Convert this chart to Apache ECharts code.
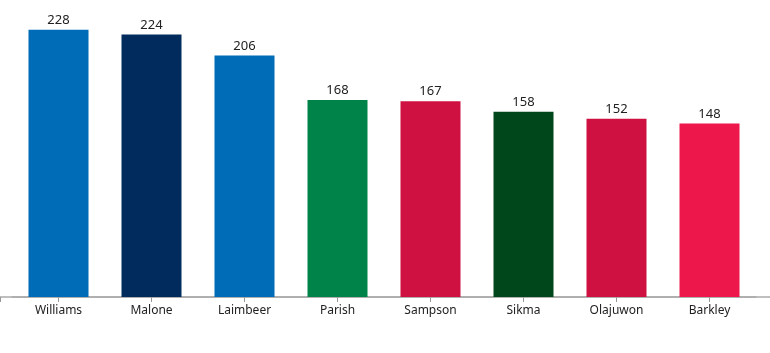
<!DOCTYPE html>
<html>
<head>
<meta charset="utf-8">
<script src="https://cdn.jsdelivr.net/npm/echarts@6/dist/echarts.min.js"></script>
<style>
  html, body { margin: 0; padding: 0; background: #fff; }
  #chart { width: 770px; height: 353px; }
</style>
</head>
<body>
<div id="chart"></div>
<script>
var players = ['Williams', 'Malone', 'Laimbeer', 'Parish', 'Sampson', 'Sikma', 'Olajuwon', 'Barkley'];
var values = [228, 224, 206, 168, 167, 158, 152, 148];
var teamColors = ['#006bb6', '#002b5c', '#006bb6', '#008348', '#ce1141', '#00471b', '#ce1141', '#ed174c'];

var chart = echarts.init(document.getElementById('chart'));
chart.setOption({
    animation: false,
    textStyle: { fontFamily: 'Noto Sans' },
    grid: [
        { left: 12, right: 14, top: 4, bottom: 56 },
        // full-width grid only used for the long axis line
        { left: 0, right: 0, top: 4, bottom: 56 }
    ],
    xAxis: [
        {
            type: 'category',
            gridIndex: 0,
            data: players,
            axisLine: { show: true, lineStyle: { color: '#aaa', width: 1.5 } },
            axisTick: { show: true, alignWithLabel: true, interval: 0, length: 5, lineStyle: { color: '#999', width: 1 } },
            axisLabel: { color: '#222', fontSize: 12, margin: 8, interval: 0 }
        },
        {
            type: 'value',
            gridIndex: 1,
            min: 0,
            max: 1,
            interval: 1,
            axisLine: { show: true, lineStyle: { color: '#aaa', width: 1.5 } },
            axisTick: { show: true, length: 5, lineStyle: { color: '#999' } },
            axisLabel: { show: false },
            splitLine: { show: false }
        }
    ],
    yAxis: [
        { type: 'value', gridIndex: 0, min: 0, max: 250, show: false },
        { type: 'value', gridIndex: 1, min: 0, max: 1, show: false }
    ],
    series: [{
        type: 'bar',
        xAxisIndex: 0,
        yAxisIndex: 0,
        barWidth: 60,
        data: values.map(function (v, i) {
            return { value: v, itemStyle: { color: teamColors[i] } };
        }),
        label: { show: true, position: 'top', distance: 3, color: '#222', fontSize: 13 }
    }]
});
</script>
</body>
</html>
